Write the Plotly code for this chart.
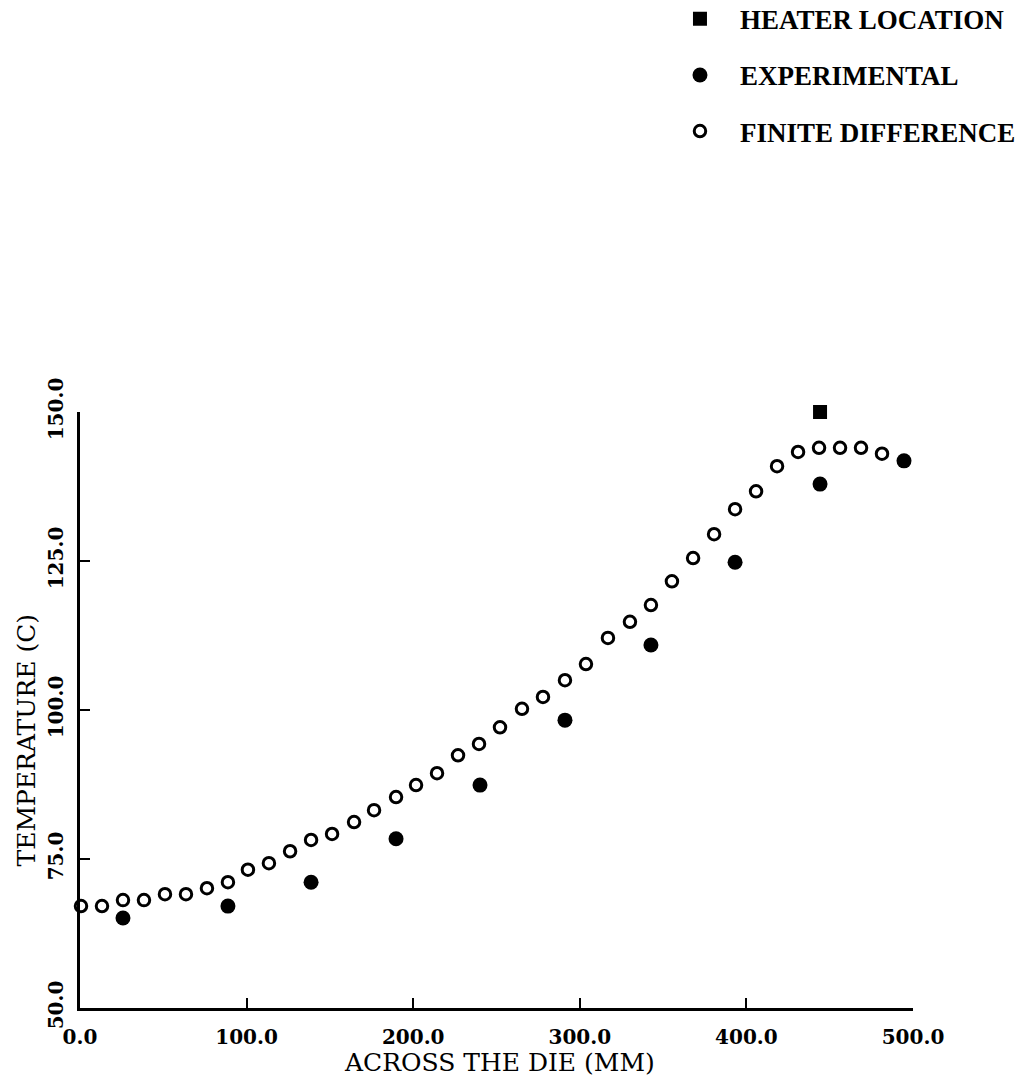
import plotly.graph_objects as go

# Heater position (mm across the die, temperature in C)
heater_x = [444.2]
heater_t = [150.0]

# Measured die temperatures
exp_x = [25.8, 88.8, 138.7, 189.7, 240.1, 291.1, 342.7, 393.2, 444.2, 494.6]
exp_t = [65.1, 67.1, 71.1, 78.4, 87.4, 98.3, 110.9, 124.8, 137.9, 141.8]

# Finite difference solution at the grid nodes
fd_x = [0.6, 13.2, 25.8, 38.4, 51.0, 63.6, 76.2, 88.8, 100.8, 113.4,
        126.1, 138.7, 151.3, 164.5, 176.5, 189.7, 201.7, 214.3, 226.9, 239.5,
        252.1, 265.3, 277.9, 291.1, 303.7, 316.9, 330.1, 342.7, 355.3, 368.0,
        380.6, 393.2, 405.8, 418.4, 431.0, 443.6, 456.2, 468.8, 481.4]
fd_t = [67.1, 67.1, 68.1, 68.1, 69.1, 69.1, 70.1, 71.1, 73.2, 74.3,
        76.3, 78.2, 79.2, 81.2, 83.2, 85.4, 87.4, 89.4, 92.4, 94.3,
        97.1, 100.2, 102.2, 105.0, 107.7, 112.1, 114.8, 117.6, 121.6, 125.5,
        129.5, 133.7, 136.7, 140.9, 143.3, 144.0, 144.0, 144.0, 143.0]

x_ticks = [0, 100, 200, 300, 400, 500]
x_tick_text = ["0.0", "100.0", "200.0", "300.0", "400.0", "500.0"]
y_ticks = [50, 75, 100, 125, 150]
y_tick_text = ["50.0", "75.0", "100.0", "125.0", "150.0"]

TICK_FONT = dict(family="DejaVu Serif", size=20, color="black", weight="bold")
LEGEND_FONT = dict(family="Liberation Serif", size=27, color="black", weight="bold")
TITLE_FONT = dict(family="DejaVu Serif", size=25, color="black")

fig = go.Figure()

fig.add_trace(go.Scatter(
    x=heater_x, y=heater_t, mode="markers", name="HEATER LOCATION",
    legendgroup="h", cliponaxis=False,
    marker=dict(symbol="square", size=14, color="black"),
))
fig.add_trace(go.Scatter(
    x=exp_x, y=exp_t, mode="markers", name="EXPERIMENTAL",
    legendgroup="e", cliponaxis=False,
    marker=dict(symbol="circle", size=15, color="black"),
))
fig.add_trace(go.Scatter(
    x=fd_x, y=fd_t, mode="markers", name="FINITE DIFFERENCE",
    legendgroup="f", cliponaxis=False,
    marker=dict(symbol="circle-open", size=11.5, color="black",
                line=dict(width=3, color="black")),
))

fig.update_layout(
    width=1028, height=1082,
    margin=dict(l=80, r=115, t=412, b=74, autoexpand=False),
    paper_bgcolor="white", plot_bgcolor="white",
    showlegend=True,
    legend=dict(
        xref="container", x=0.642, xanchor="left",
        yref="paper", y=1.70, yanchor="top",
        font=LEGEND_FONT, tracegroupgap=18, itemwidth=70,
        bgcolor="rgba(0,0,0,0)", itemsizing="trace",
    ),
    xaxis=dict(
        range=[0, 500], tickvals=x_ticks, ticktext=x_tick_text,
        tickfont=TICK_FONT, ticks="inside", ticklen=10, tickwidth=2,
        tickcolor="black", showline=True, linecolor="black", linewidth=2.5,
        showgrid=False, zeroline=False, mirror=False,
        ticklabelstandoff=9,
    ),
    yaxis=dict(
        range=[50, 150], tickvals=y_ticks, ticktext=y_tick_text,
        tickfont=TICK_FONT, tickangle=-90, ticks="inside", ticklen=10,
        tickwidth=2, tickcolor="black", showline=True, linecolor="black",
        linewidth=2.5, showgrid=False, zeroline=False, mirror=False,
        ticklabelstandoff=6,
    ),
    annotations=[
        dict(text="ACROSS THE DIE (MM)", xref="paper", yref="paper",
             x=0.504, y=-0.092, xanchor="center", yanchor="middle",
             showarrow=False, font=TITLE_FONT),
        dict(text="TEMPERATURE (C)", xref="paper", yref="paper",
             x=-0.064, y=0.45, xanchor="center", yanchor="middle",
             textangle=-90, showarrow=False, font=TITLE_FONT),
    ],
)

fig.write_html("out.html")
